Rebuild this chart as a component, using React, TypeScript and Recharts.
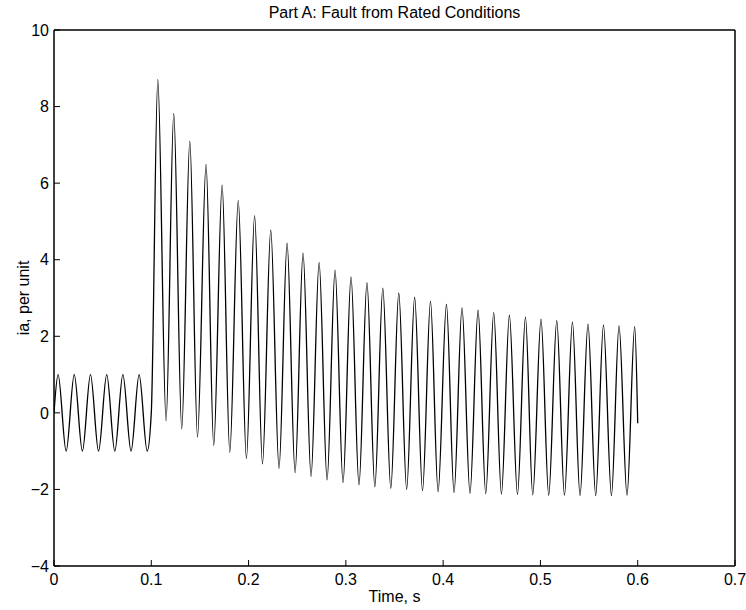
import React from 'react';
import { LineChart, Line, XAxis, YAxis } from 'recharts';

// pre-fault: 60 Hz, 1 pu
const preTimes = [0, 0.0042, 0.0125, 0.0208, 0.0292, 0.0375, 0.0458, 0.0542, 0.0625, 0.0708, 0.0792, 0.0875, 0.0958, 0.1];
const preValues = [0, 1, -1, 1, -1, 1, -1, 1, -1, 1, -1, 1, -1, 0];

// after the fault: peaks and troughs
const peakTimes = [
  0.1067, 0.1231, 0.1396, 0.1563, 0.1728, 0.1894, 0.2062, 0.2228, 0.2396, 0.256,
  0.2725, 0.2889, 0.3053, 0.3217, 0.338, 0.3544, 0.3707, 0.387, 0.4034, 0.4194,
  0.4359, 0.452, 0.4681, 0.4846, 0.5006, 0.5168, 0.5329, 0.5489, 0.5648, 0.5808, 0.5969,
];
const peakValues = [
  8.71, 7.82, 7.1, 6.49, 5.95, 5.55, 5.15, 4.78, 4.43, 4.17,
  3.93, 3.73, 3.55, 3.4, 3.26, 3.13, 3.02, 2.91, 2.83, 2.74,
  2.68, 2.62, 2.55, 2.5, 2.45, 2.41, 2.37, 2.32, 2.29, 2.27, 2.25,
];
const troughTimes = [
  0.1152, 0.1313, 0.1475, 0.1642, 0.1807, 0.1978, 0.2143, 0.2313, 0.2478, 0.2642,
  0.2807, 0.2971, 0.3135, 0.3298, 0.3462, 0.3625, 0.3788, 0.3948, 0.4112, 0.4276,
  0.4438, 0.4599, 0.4764, 0.4921, 0.5085, 0.5247, 0.5407, 0.5568, 0.573, 0.589,
];
const troughValues = [
  -0.21, -0.42, -0.63, -0.85, -1.03, -1.19, -1.33, -1.45, -1.56, -1.66,
  -1.75, -1.82, -1.88, -1.93, -1.97, -2.0, -2.03, -2.06, -2.08, -2.1,
  -2.11, -2.12, -2.13, -2.14, -2.15, -2.15, -2.16, -2.16, -2.16, -2.15,
];
const endTime = 0.6;
const endValue = -0.27;

const xTicks = [0, 0.1, 0.2, 0.3, 0.4, 0.5, 0.6, 0.7];
const yTicks = [-4, -2, 0, 2, 4, 6, 8, 10];

const points = [
  ...preTimes.map((t, i) => ({ t, ia: preValues[i] })),
  ...peakTimes.map((t, i) => ({ t, ia: peakValues[i] })),
  ...troughTimes.map((t, i) => ({ t, ia: troughValues[i] })),
  { t: endTime, ia: endValue },
].sort((a, b) => a.t - b.t);

const font = '"Liberation Sans", Arial, Helvetica, sans-serif';
const tickStyle = { fontSize: 16, fill: '#000', fontFamily: font };
const axisStroke = { stroke: '#000', strokeWidth: 1.5 };
const fmtX = (v: number) => (v === 0 ? '0' : String(Number(v.toFixed(1))));
const fmtY = (v: number) => String(v).replace('-', '\u2212');

export default function App() {
  return (
    <div style={{ position: 'absolute', left: 0, top: 0, width: 746, height: 610, background: '#fff', fontFamily: font }}>
      <div style={{ position: 'absolute', left: 54, width: 681, top: 4, textAlign: 'center', fontSize: 16, lineHeight: '17px' }}>
        Part A: Fault from Rated Conditions
      </div>
      <div style={{ position: 'absolute', left: 54, width: 681, top: 588, textAlign: 'center', fontSize: 16, lineHeight: '17px' }}>
        Time, s
      </div>
      <div
        style={{
          position: 'absolute', left: 23, top: 298, fontSize: 16, lineHeight: '17px', whiteSpace: 'nowrap',
          transform: 'translate(-50%, -50%) rotate(-90deg)',
        }}
      >
        ia, per unit
      </div>
      <LineChart width={746} height={610} data={points} margin={{ top: 29, right: 10, bottom: 14, left: 10 }}>
        <XAxis
          dataKey="t" type="number" domain={[0, 0.7]} ticks={xTicks} interval={0} allowDataOverflow
          height={30} tickSize={-6} tickMargin={14} tickFormatter={fmtX} tick={tickStyle}
          axisLine={axisStroke} tickLine={{ stroke: '#000' }}
        />
        <XAxis
          xAxisId="top" orientation="top" dataKey="t" type="number" domain={[0, 0.7]} ticks={xTicks} interval={0}
          allowDataOverflow height={1} tickSize={-6} tick={false} axisLine={axisStroke} tickLine={{ stroke: '#000' }}
        />
        <YAxis
          type="number" domain={[-4, 10]} ticks={yTicks} interval={0} allowDataOverflow
          width={44} tickSize={-6} tickMargin={11} tickFormatter={fmtY} tick={tickStyle}
          axisLine={axisStroke} tickLine={{ stroke: '#000' }}
        />
        <YAxis
          yAxisId="right" orientation="right" type="number" domain={[-4, 10]} ticks={yTicks} interval={0}
          allowDataOverflow width={1} tickSize={-6} tick={false} axisLine={axisStroke} tickLine={{ stroke: '#000' }}
        />
        <Line
          xAxisId="top" yAxisId="right" dataKey="ia" type="monotone" dot={false} stroke="none"
          isAnimationActive={false} legendType="none"
        />
        <Line dataKey="ia" type="monotone" dot={false} stroke="#000" strokeWidth={1.3} isAnimationActive={false} />
      </LineChart>
    </div>
  );
}
